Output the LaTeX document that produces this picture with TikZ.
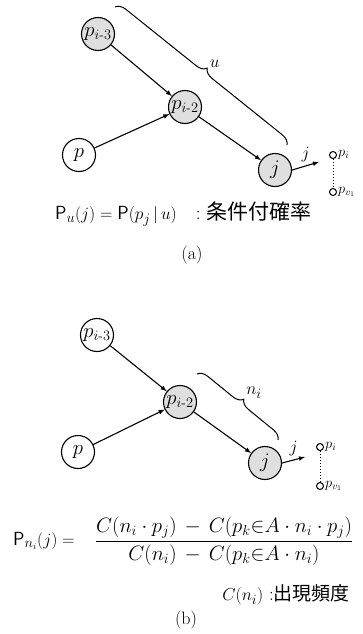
\documentclass[tikz,border=0pt]{standalone}
\usepackage{amsmath}
\usepackage{amssymb}
\usepackage{fontspec}
\newfontfamily\cjk{Noto Sans CJK JP}
\usetikzlibrary{arrows,decorations.pathreplacing}

\tikzset{
	state/.style={circle, draw, line width=1.1pt, minimum size=33pt, inner sep=0pt, font=\fontsize{20}{22}\selectfont},
	shaded/.style={state, fill=gray!25},
	leaf/.style={circle, draw, line width=1pt, minimum size=7pt, inner sep=0pt},
	link/.style={->, >=latex, line width=1.1pt},
	span/.style={decorate, decoration={brace, amplitude=10pt}, line width=1pt},
	big/.style={font=\fontsize{19}{22}\selectfont},
	captext/.style={font=\fontsize{18}{20}\selectfont},
	leaftext/.style={font=\fontsize{14}{16}\selectfont, inner sep=1pt}
}

\begin{document}
\begin{tikzpicture}[x=1pt, y=-1pt]
	\useasboundingbox (0,0) rectangle (363,634);
	%Caso (a)
	\node [shaded] (a3) at (98,34) {$p_{i\text{-}3}$};
	\node [shaded] (a2) at (185,107) {$p_{i\text{-}2}$};
	\node [state] (a0) at (79,155) {$p$};
	\node [shaded] (aj) at (275,170) {$j$};
	\draw [link] (a3) -- (a2);
	\draw [link] (a0) -- (a2);
	\draw [link] (a2) -- (aj);
	\coordinate (abs) at (115,7);
	\coordinate (abe) at (287,145);
	\draw [span] (abs) -- (abe) node [midway, above right=5pt, big] {$u$};
	\coordinate (aout) at (319,162);
	\draw [link] (aj.east) -- (aout) node [pos=0.5, above, captext] {$j$};
	\node [leaf] (api) at (333,155) {};
	\node [leaf] (apv) at (333,192) {};
	\draw [line width=1pt, dotted] (api) -- (apv);
	\node [leaftext, anchor=west] at (api.east) {$p_i$};
	\node [leaftext, anchor=west] at (apv.east) {$p_{v_1}$};
	\node [big, anchor=west, inner sep=0pt] (af) at (55,214) {$\mathsf{P}_{u}(j) = \mathsf{P}(p_j\,|\,u)$\quad :\ {\cjk\fontsize{21}{22}\selectfont 条件付確率}};
	\node [captext] (acap) at (192,255) {(a)};
	%Caso (b)
	\node [state] (b3) at (97,335) {$p_{i\text{-}3}$};
	\node [shaded] (b2) at (180,402) {$p_{i\text{-}2}$};
	\node [state] (b0) at (78,452) {$p$};
	\node [shaded] (bj) at (265,463) {$j$};
	\draw [link] (b3) -- (b2);
	\draw [link] (b0) -- (b2);
	\draw [link] (b2) -- (bj);
	\coordinate (bbs) at (197,374);
	\coordinate (bbe) at (278,440);
	\draw [span] (bbs) -- (bbe) node [midway, above right=5pt, big] {$n_i$};
	\coordinate (bout) at (305,457);
	\draw [link] (bj.east) -- (bout) node [pos=0.5, above, captext] {$j$};
	\node [leaf] (bpi) at (320,447) {};
	\node [leaf] (bpv) at (320,486) {};
	\draw [line width=1pt, dotted] (bpi) -- (bpv);
	\node [leaftext, anchor=west] at (bpi.east) {$p_i$};
	\node [leaftext, anchor=west] at (bpv.east) {$p_{v_1}$};
	\node [big, anchor=west, inner sep=0pt] (bl) at (13,541) {$\mathsf{P}_{n_i}(j) =$};
	\node [font=\fontsize{20}{22}\selectfont, inner sep=0pt] (bf) at (224,541) {$\dfrac{C(n_i\cdot p_j) \,-\, C(p_k{\in}A\cdot n_i\cdot p_j)}{C(n_i) \,-\, C(p_k{\in}A\cdot n_i)}$};
	\node [big, anchor=east, inner sep=0pt] (bc) at (350,595) {$C(n_i)$ :{\cjk 出現頻度}};
	\node [captext] (bcap) at (186,620) {(b)};
\end{tikzpicture}
\end{document}
